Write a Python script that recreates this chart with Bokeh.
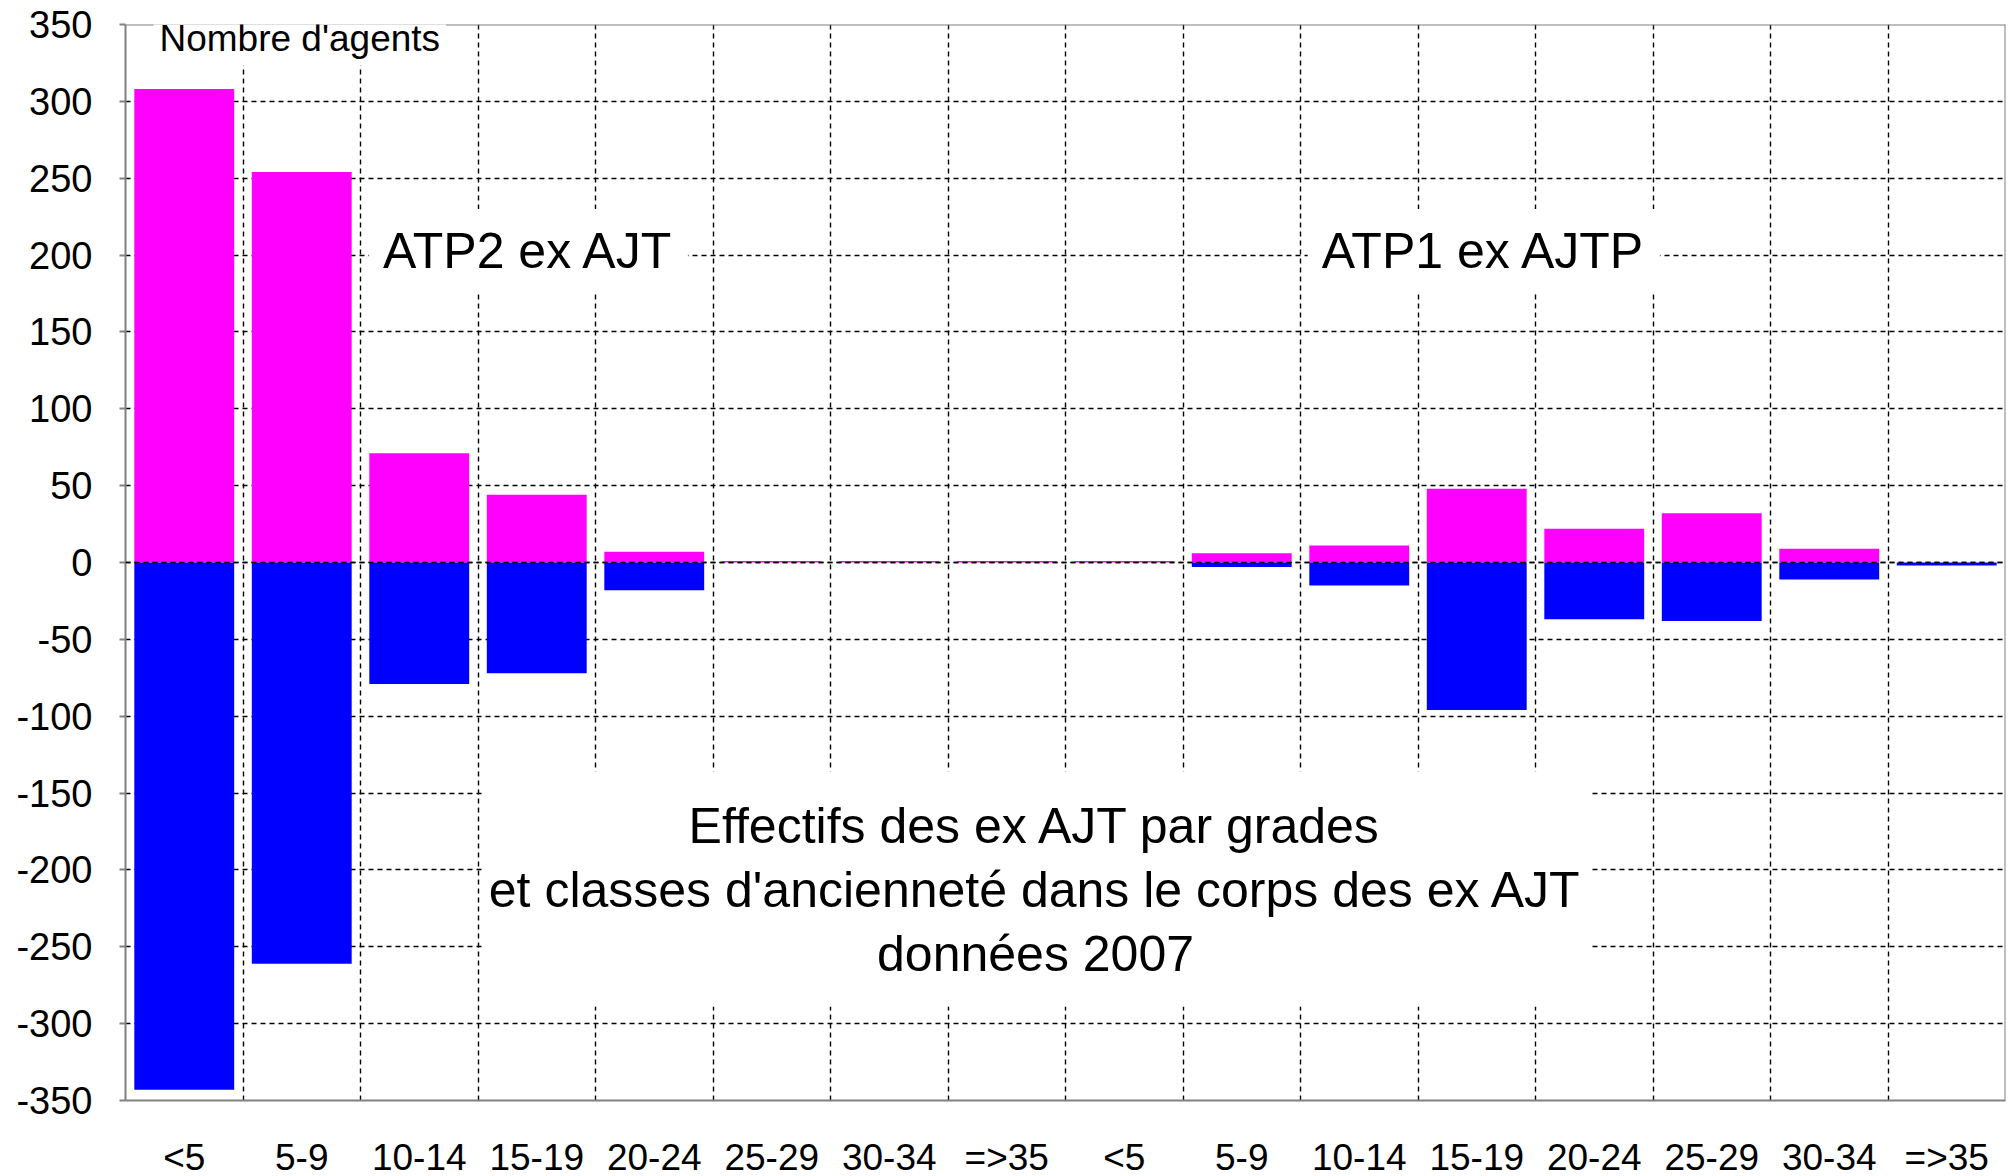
from bokeh.plotting import figure
from bokeh.models import FixedTicker, Span, Label, BoxAnnotation
from bokeh.embed import file_html
from bokeh.resources import INLINE

# ---- data ----
categories = ["<5", "5-9", "10-14", "15-19", "20-24", "25-29", "30-34", "=>35",
              "<5", "5-9", "10-14", "15-19", "20-24", "25-29", "30-34", "=>35"]
upper_values = [308, 254, 71, 44, 7, 1, 1, 1, 1, 6, 11, 48, 22, 32, 9, 0]
lower_values = [-343, -261, -79, -72, -18, 0, 0, 0, 0, -3, -15, -96, -37, -38, -11, -2]
y_ticks = [-350, -300, -250, -200, -150, -100, -50, 0, 50, 100, 150, 200, 250, 300, 350]
y_axis_title = "Nombre d'agents"
group_labels = ["ATP2 ex AJT", "ATP1 ex AJTP"]
title_lines = ["Effectifs des ex AJT par grades",
               "et classes d'ancienneté dans le corps des ex AJT",
               "données 2007"]

FONT = "Liberation Sans"
n = len(categories)
xs = [i + 0.5 for i in range(n)]

p = figure(frame_width=1880, frame_height=1076, x_range=(0, n), y_range=(y_ticks[0], y_ticks[-1]),
           output_backend="svg", toolbar_location=None,
           min_border_left=125, min_border_top=24, min_border_right=2, min_border_bottom=10)
p.outline_line_color = None
p.background_fill_color = "white"
p.border_fill_color = "white"

# window-frame strips at the left edge
p.add_layout(BoxAnnotation(left=0, right=3, top=0, bottom=1200,
                           left_units="canvas", right_units="canvas",
                           top_units="canvas", bottom_units="canvas",
                           fill_color="#0A246A", fill_alpha=1.0, line_color=None))
p.add_layout(BoxAnnotation(left=3, right=12, top=0, bottom=1200,
                           left_units="canvas", right_units="canvas",
                           top_units="canvas", bottom_units="canvas",
                           fill_color="#ECE9D8", fill_alpha=1.0, line_color=None))

p.vbar(x=xs, bottom=0, top=upper_values, width=0.85, fill_color="#FF00FF", line_color=None)
p.vbar(x=xs, bottom=lower_values, top=0, width=0.85, fill_color="#0000FF", line_color=None)

# axes
p.xaxis.ticker = FixedTicker(ticks=xs)
p.xaxis.major_label_overrides = {x: c for x, c in zip(xs, categories)}
p.yaxis.ticker = FixedTicker(ticks=y_ticks)
p.yaxis.major_label_overrides = {v: str(v) for v in y_ticks}
for ax in (p.xaxis, p.yaxis):
    ax.axis_line_color = "#808080"
    ax.axis_line_width = 2
    ax.major_label_text_font = FONT
    ax.major_label_text_color = "black"
    ax.minor_tick_line_color = None
p.xaxis.major_label_text_font_size = "37px"
p.yaxis.major_label_text_font_size = "38px"
p.xaxis.major_tick_line_color = None
p.xaxis.major_label_standoff = 30
p.yaxis.major_tick_line_color = "#808080"
p.yaxis.major_tick_line_width = 2
p.yaxis.major_tick_out = 6
p.yaxis.major_tick_in = 0
p.yaxis.major_label_standoff = 27

# grids
p.xgrid.ticker = FixedTicker(ticks=list(range(1, n)))
p.ygrid.ticker = FixedTicker(ticks=y_ticks[1:-1])
for g in (p.xgrid, p.ygrid):
    g.grid_line_color = "black"
    g.grid_line_dash = "5 4"
    g.grid_line_width = 1.4

# frame top/right borders
p.add_layout(Span(location=y_ticks[-1], dimension="width", line_color="#808080", line_width=2))
p.add_layout(Span(location=n, dimension="height", line_color="#808080", line_width=2))
# zero line over bars
p.add_layout(Span(location=0, dimension="width", line_color="black", line_dash="5 4",
                  line_width=1.5, level="overlay"))

# axis title on top border
p.add_layout(Label(x=0.238, y=340.6, text=y_axis_title, text_align="left", text_baseline="middle",
                   text_font=FONT, text_font_size="37px", text_color="black",
                   background_fill_color="white", padding=6))

# group labels
for gx, txt in zip([3.43, 11.56], group_labels):
    p.add_layout(Label(x=gx, y=202.6, text=txt, text_align="center", text_baseline="middle",
                       text_font=FONT, text_font_size="50px", text_color="black",
                       background_fill_color="white", padding=14))

# title block
p.add_layout(BoxAnnotation(left=3.04, right=12.46, bottom=-289, top=-136,
                           fill_color="white", fill_alpha=1.0, line_color=None))
for ty, line in zip([-171.1, -212.8, -254.4], title_lines):
    p.add_layout(Label(x=7.745, y=ty, text=line, text_align="center", text_baseline="middle",
                       text_font=FONT, text_font_size="50px", text_color="black"))

open("out.html", "w").write(file_html(p, INLINE))
